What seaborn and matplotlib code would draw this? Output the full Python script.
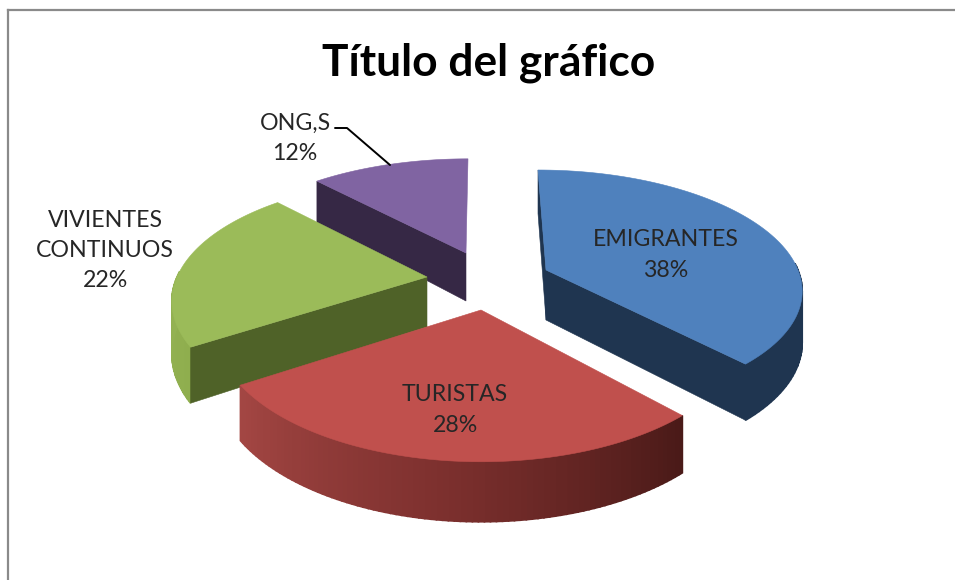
import numpy as np
import matplotlib
matplotlib.use("Agg")
import matplotlib.pyplot as plt
import seaborn as sns

title = "Título del gráfico"
categories = ["EMIGRANTES", "TURISTAS", "VIVIENTES\nCONTINUOS", "ONG,S"]
values = [38, 28, 22, 12]

top_colors = ["#4f81bd", "#c0504d", "#9bbb59", "#8064a2"]
wall_colors = ["#1f3550", "#4a1a18", "#4f6228", "#362845"]
arc_colors = [["#1f3550", "#1f3550"],
              ["#4a1a18", "#7d302e", "#a34643"],
              ["#8fae4e", "#9ab85a"],
              ["#362845", "#362845"]]

# layout of each exploded slice, in pixels of the picture
apex = [(546, 270), (481, 310), (427, 277), (466, 253)]
radius_x = [252, 262, 250, 252]
radius_y = [115, 129, 117, 113]
persp = [0.15, 0.15, 0.20, 0.20]
lean = [-8, 0, 0, 2]
depth = [50, 51, 50, 48]
cut_faces = [(0, 1), (), (0,), (0,)]   # cut faces that show: 0 start, 1 end
draw_order = [3, 2, 0, 1]
label_xy = [(666, 255), (455, 410), (105, 250.5), (295, 138.5)]
leader_x = [335, 347, 390]
leader_y = [128, 128, 165]

sns.set_theme(style="white")
plt.rcParams["font.family"] = ["Lato", "DejaVu Sans"]

W, H = 955, 580
fig = plt.figure(figsize=(W / 100, H / 100), dpi=100, facecolor="white")

# chart-area frame: only its top and left edges fall inside the picture
frame = fig.add_axes([8 / W, -0.1, 1.0, 0.1 + (H - 10) / H])
frame.set_xticks([])
frame.set_yticks([])
sns.despine(ax=frame, right=True, bottom=True)
for side in ("top", "left"):
    frame.spines[side].set_color("#8a8a8a")
    frame.spines[side].set_linewidth(1.6)
    frame.spines[side].set_visible(True)

ax = fig.add_axes([0, 0, 1, 1])
ax.set_xlim(0, W)
ax.set_ylim(H, 0)
ax.axis("off")


def project(i, theta, r=1.0, z=0.0):
    u, v = r * np.sin(theta), r * np.cos(theta)
    w = 1.0 / (1.0 + persp[i] * v)
    x = apex[i][0] + radius_x[i] * u * w + lean[i] * v
    y = apex[i][1] - radius_y[i] * v * w + depth[i] * w * z
    return x, y


total = sum(values)
edges = np.cumsum([0] + values) / total * 2 * np.pi

for i in draw_order:
    a0, a1 = edges[i], edges[i + 1]
    n = 90
    thetas = np.linspace(a0, a1, n + 1)

    # outer wall, strip by strip so the shading can change along the rim;
    # strips at the back of the pie are hidden
    strips = sns.blend_palette(arc_colors[i], n)
    for j in range(n):
        t = thetas[j:j + 2]
        if np.cos(t.mean()) > 0.05:
            continue
        xt, yt = project(i, t, 1.0, 0.0)
        xb, yb = project(i, t[::-1], 1.0, 1.0)
        ax.fill(np.r_[xt, xb], np.r_[yt, yb], color=strips[j], lw=1.2)

    # visible cut faces
    for face in cut_faces[i]:
        a = a1 if face else a0
        x0, y0 = project(i, a, 0.0, 0.0)
        x1, y1 = project(i, a, 1.0, 0.0)
        x2, y2 = project(i, a, 1.0, 1.0)
        x3, y3 = project(i, a, 0.0, 1.0)
        ax.fill([x0, x1, x2, x3], [y0, y1, y2, y3], color=wall_colors[i], lw=0.4)

    # top face
    xa, ya = project(i, thetas)
    xc, yc = project(i, a0, 0.0)
    ax.fill(np.r_[xc, xa], np.r_[yc, ya], color=top_colors[i], lw=0.4)

for name, val, (x, y) in zip(categories, values, label_xy):
    ax.text(x, y, f"{name}\n{val}%", ha="center", va="center", fontsize=16.7,
            color="#262626", linespacing=1.55, zorder=20)

ax.plot(leader_x, leader_y, color="black", lw=1.4, zorder=15)

ax.text(488.5, 63, title, ha="center", va="center", fontsize=31.9,
        fontweight="bold", color="black", zorder=20)

fig.savefig("out.png", dpi=100, facecolor="white")
